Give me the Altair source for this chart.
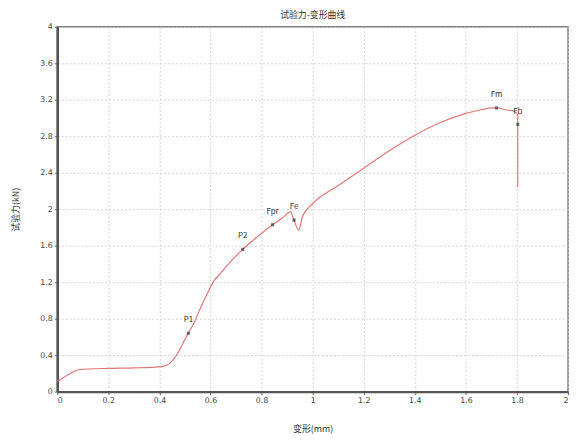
import altair as alt
import pandas as pd

# curve: deformation (mm) vs test force (kN)
curve_x = [0.0, 0.04, 0.085, 0.2, 0.3, 0.41, 0.44, 0.467, 0.49, 0.513, 0.54, 0.564,
           0.59, 0.61, 0.64, 0.68, 0.726, 0.78, 0.843, 0.88, 0.913, 0.927,
           0.945, 0.96, 1.0, 1.1, 1.2, 1.3, 1.4, 1.5, 1.6, 1.66,
           1.70, 1.72, 1.755, 1.79, 1.803, 1.803]
curve_y = [0.11, 0.18, 0.24, 0.255, 0.26, 0.275, 0.31, 0.40, 0.52, 0.64, 0.78, 0.94,
           1.09, 1.20, 1.30, 1.43, 1.56, 1.69, 1.83, 1.90, 1.97, 1.88,
           1.77, 1.92, 2.06, 2.26, 2.45, 2.64, 2.81, 2.95, 3.05, 3.09,
           3.11, 3.11, 3.09, 3.07, 3.04, 2.24]

# marked points
pt_label = ["P1", "P2", "Fpr", "Fe", "Fm", "Fb"]
pt_x = [0.513, 0.726, 0.843, 0.927, 1.72, 1.803]
pt_y = [0.64, 1.56, 1.83, 1.88, 3.11, 2.93]

x_ticks = [0, 0.2, 0.4, 0.6, 0.8, 1, 1.2, 1.4, 1.6, 1.8, 2]
y_ticks = [0, 0.4, 0.8, 1.2, 1.6, 2, 2.4, 2.8, 3.2, 3.6, 4]

cdf = pd.DataFrame({"x": curve_x, "y": curve_y, "i": list(range(len(curve_x)))})
pdf = pd.DataFrame({"x": pt_x, "y": pt_y, "label": pt_label})

FONT = "Noto Sans CJK SC"

xenc = alt.X("x:Q", scale=alt.Scale(domain=[0, 2], nice=False),
             axis=alt.Axis(values=x_ticks, tickCount=20, title="变形(mm)", titleFontSize=9,
                           titleFont=FONT, titleFontWeight="normal", titlePadding=20,
                           titleColor="#333", labelOverlap=False,
                           labelExpr="'' + datum.value"))
yenc = alt.Y("y:Q", scale=alt.Scale(domain=[0, 4], nice=False),
             axis=alt.Axis(values=y_ticks, tickCount=20, title="试验力(kN)", titleFontSize=9,
                           titleFont=FONT, titleFontWeight="normal", titlePadding=20,
                           titleColor="#333", labelOverlap=False,
                           labelExpr="'' + datum.value"))

line = alt.Chart(cdf).mark_line(color="#e07878", strokeWidth=1.2,
                                interpolate="monotone").encode(
    x=xenc, y=yenc, order="i:Q")

pts = alt.Chart(pdf).mark_point(shape="square", size=10, filled=True,
                                color="#333").encode(x="x:Q", y="y:Q")

labels = alt.Chart(pdf).mark_text(dy=-13, fontSize=8, color="#333",
                                  font=FONT).encode(x="x:Q", y="y:Q", text="label:N")

chart = (line + pts + labels).properties(
    width=518, height=370,
    title=alt.TitleParams("试验力-变形曲线", fontSize=9, font=FONT,
                          fontWeight="normal", color="#333", offset=3),
    autosize=alt.AutoSizeParams(type="none"),
    padding={"left": 50, "top": 16, "right": 5, "bottom": 45},
).configure_view(
    stroke="#777", strokeWidth=1.5
).configure_axis(
    grid=True, gridColor="#c8c8c8", gridDash=[2, 2], gridWidth=0.8,
    domainColor="#555", domainWidth=2.5,
    tickColor="#666", tickSize=3,
    labelFontSize=8, labelColor="#444", labelFont="DejaVu Sans",
)

chart.save("out.html", embed_options={"renderer": "svg", "actions": False})
